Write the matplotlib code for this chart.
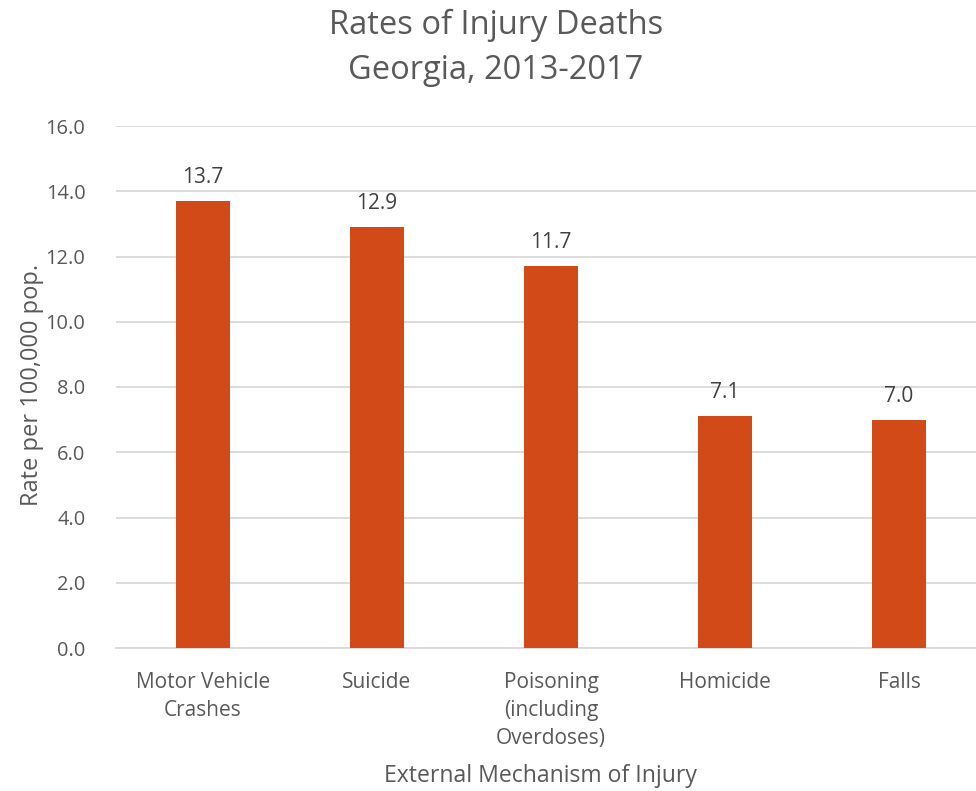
import matplotlib
matplotlib.use("Agg")
import matplotlib.pyplot as plt

categories = ["Motor Vehicle\nCrashes", "Suicide", "Poisoning\n(including\nOverdoses)", "Homicide", "Falls"]
values = [13.7, 12.9, 11.7, 7.1, 7.0]
yticks = [0, 2, 4, 6, 8, 10, 12, 14, 16]

plt.rcParams['font.family'] = ['Open Sans', 'DejaVu Sans']
TXT = "#595959"
BAR = "#D14A18"
GRID = "#D9D9D9"

fig = plt.figure(figsize=(9.76, 7.91), dpi=100)
ax = fig.add_axes([116/976, 1-648/791, 860/976, 522/791])
x = list(range(len(categories)))
bars = ax.bar(x, values, width=0.31, color=BAR, zorder=3)
ax.set_xlim(-0.5, -0.5 + 860/174)
ax.set_ylim(0, 16)
ax.set_yticks(yticks)
ax.set_yticklabels([f"{v:.1f}" for v in yticks], fontsize=14.4, color=TXT)
ax.set_xticks(x)
ax.set_xticklabels(categories, fontsize=15, color=TXT, linespacing=1.45, va="top")
ax.tick_params(axis="both", length=0)
ax.tick_params(axis="x", pad=17)
ax.tick_params(axis="y", pad=22)
ax.grid(axis="y", color=GRID, linewidth=1.3, zorder=0)
for s in ["top", "right", "left"]:
    ax.spines[s].set_visible(False)
ax.spines["bottom"].set_color(GRID)
ax.spines["bottom"].set_linewidth(1.3)
for xi, v in zip(x, values):
    ax.text(xi, v + 0.4, f"{v:.1f}", ha="center", va="bottom", fontsize=15, color="#404040")
fig.text(32/976, 1-385/791, "Rate per 100,000 pop.", rotation=90, ha="center", va="center",
         fontsize=17, color=TXT)
fig.text(540/976, 1-776/791, "External Mechanism of Injury", ha="center", va="center", fontsize=16.6, color=TXT)
fig.text(496/976, 1-48/791, "Rates of Injury Deaths\nGeorgia, 2013-2017", ha="center", va="center",
         fontsize=23.5, color=TXT, linespacing=1.5)
fig.savefig("out.png", dpi=100)
